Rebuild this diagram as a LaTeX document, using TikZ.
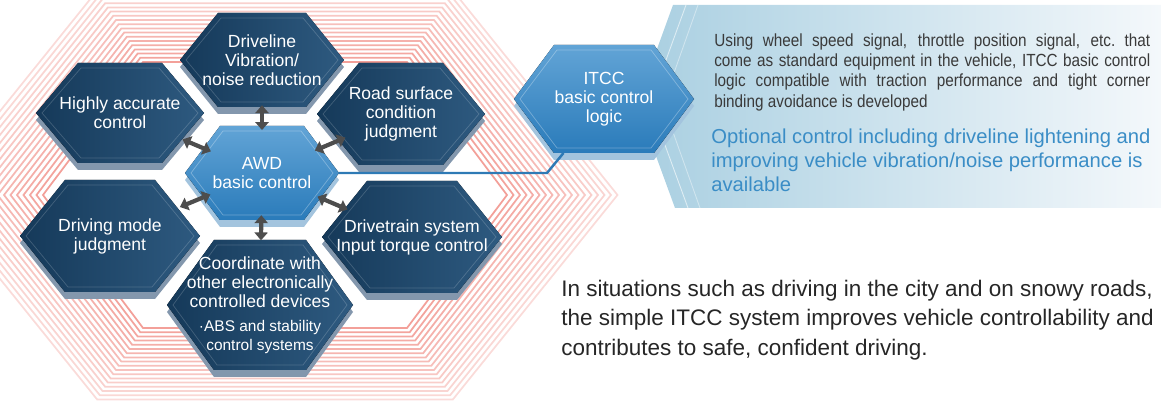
\documentclass[tikz,border=0pt]{standalone}
\usepackage{fontspec}
\setmainfont{Liberation Sans}
\newfontfamily\narrowfont[FakeStretch=0.87]{Liberation Sans}
\usetikzlibrary{arrows.meta, calc}

\definecolor{navyA}{HTML}{153959}
\definecolor{navyB}{HTML}{2E5A80}
\definecolor{navySlab}{HTML}{8397AD}
\definecolor{awdA}{HTML}{2A7BBA}
\definecolor{awdB}{HTML}{62A4D6}
\definecolor{awdSlab}{HTML}{A3C4DE}
\definecolor{arrowgray}{HTML}{4D4D4D}
\definecolor{ringpink}{HTML}{F29B94}
\definecolor{linkblue}{HTML}{2E7AB5}
\definecolor{optblue}{HTML}{3A8DC6}
\definecolor{bodygray}{HTML}{3A3A3A}
\definecolor{bodydark}{HTML}{262626}
\definecolor{panelL}{HTML}{A9CFE1}
\definecolor{panelM}{HTML}{CDE3ED}
\definecolor{panelR}{HTML}{F4F8FB}

\newcommand{\hexfont}{\fontsize{10}{10.8}\selectfont}
\newcommand{\smallhexfont}{\fontsize{8.8}{10.2}\selectfont}

% name, x, y, half width, half height, inset, kind, text
\newcommand{\hexcell}[8]{%
  \begin{scope}[shift={(#2,#3)}]
    \fill[#7 slab] (-#4,7) -- (-#4+#6,7-#5) -- (#4-#6,7-#5) -- (#4,7) -- (#4-#6,7+#5) -- (-#4+#6,7+#5) -- cycle;
    \fill[#7 face] (-#4,0) -- (-#4+#6,-#5) -- (#4-#6,-#5) -- (#4,0) -- (#4-#6,#5) -- (-#4+#6,#5) -- cycle;
    \draw[#7 rim] (-#4+6,0) -- (-#4+#6+3,5-#5) -- (#4-#6-3,5-#5) -- (#4-6,0) -- (#4-#6-3,#5-5) -- (-#4+#6+3,#5-5) -- cycle;
  \end{scope}
  \node[hex text, minimum width=#4*0.04cm, minimum height=#5*0.04cm] (#1) at (#2,#3) {#8};
}

\begin{document}
\begin{tikzpicture}[x=0.02cm, y=-0.02cm]
\tikzstyle{dark slab}=[fill=navySlab]
\tikzstyle{dark face}=[left color=navyA, right color=navyB]
\tikzstyle{dark rim}=[draw=white, draw opacity=0.18, line width=0.4pt]
\tikzstyle{light slab}=[fill=awdSlab]
\tikzstyle{light face}=[bottom color=awdA, top color=awdB]
\tikzstyle{light rim}=[draw=white, draw opacity=0.3, line width=0.4pt]
\tikzstyle{hex text}=[text=white, align=center, inner sep=0pt, outer sep=0pt, font=\hexfont]
\tikzstyle{biarrow}=[draw=arrowgray, line width=2.4pt, {Triangle[length=4.5pt,width=7.5pt]}-{Triangle[length=4.5pt,width=7.5pt]}]
\tikzstyle{link}=[draw=linkblue, line width=1.4pt]
\tikzstyle{ring}=[draw=ringpink, line width=1pt]

\useasboundingbox (0,0) rectangle (1161,405);

% background rings
\begin{scope}
\clip (0,0) rectangle (1161,405);
\foreach \k in {0,...,17}{
  \pgfmathsetmacro{\hw}{232+6.5*\k}
  \pgfmathsetmacro{\hh}{133+4.2*\k}
  \pgfmathsetmacro{\dd}{100+3.8*\k}
  \pgfmathsetmacro{\op}{0.95-0.035*\k}
  \draw[ring, draw opacity=\op] (275-\hw,195) -- (275-\hw+\dd,195-\hh) -- (275+\hw-\dd,195-\hh)
    -- (275+\hw,195) -- (275+\hw-\dd,195+\hh) -- (275-\hw+\dd,195+\hh) -- cycle;
}
\end{scope}

% info panel
\path[left color=panelL, middle color=panelM, right color=panelR] (673,5) -- (1161,5) -- (1161,208) -- (675,208) -- (637,104) -- cycle;
\draw[white, opacity=0.6, line width=0.5pt] (686,5) -- (650,104) -- (688,208);
\draw[white, opacity=0.4, line width=0.5pt] (698,5) -- (663,104) -- (700,208);

% hexagons
\hexcell{drive}{262}{60}{82}{47}{38}{dark}{Driveline\\Vibration/\\noise reduction}
\hexcell{accurate}{120}{113}{84}{50}{42}{dark}{Highly accurate\\control}
\hexcell{road}{401}{114}{84}{51}{42}{dark}{Road surface\\condition\\judgment}
\hexcell{mode}{110}{236}{90}{56}{45}{dark}{Driving mode\\judgment}
\hexcell{torque}{412}{237}{90}{56}{45}{dark}{Drivetrain system\\Input torque control}
\hexcell{coord}{260}{305}{93}{65}{47}{dark}{Coordinate with\\other electronically\\controlled devices\\[3pt]\smallhexfont ·ABS and stability\\\smallhexfont control systems}
\hexcell{awd}{262}{173}{77}{47}{35}{light}{AWD\\basic control}
\hexcell{itcc}{604}{99}{90}{54}{40}{light}{ITCC\\basic control\\logic}

% arrows
\draw[biarrow] ($(awd)!0.38!(drive)$) -- ($(awd)!0.60!(drive)$);
\draw[biarrow] ($(awd)!0.36!(accurate)$) -- ($(awd)!0.56!(accurate)$);
\draw[biarrow] ($(awd)!0.38!(road)$) -- ($(awd)!0.60!(road)$);
\draw[biarrow] ($(awd)!0.34!(mode)$) -- ($(awd)!0.54!(mode)$);
\draw[biarrow] ($(awd)!0.37!(torque)$) -- ($(awd)!0.57!(torque)$);
\draw[biarrow] ($(awd)!0.32!(coord)$) -- ($(awd)!0.51!(coord)$);

\coordinate (bend) at (547,173);
\draw[link] (awd.east) -- (bend) -- ($(itcc.south west)!0.55!(itcc.south)$);

% texts
\node[anchor=north west, inner sep=0pt, text=bodygray, font=\narrowfont\fontsize{10}{11.6}\selectfont, align=left] (spec) at (714,33)
  {\makebox[8.72cm][s]{Using wheel speed signal, throttle position signal, etc.\ that}\\
   \makebox[8.72cm][s]{come as standard equipment in the vehicle, ITCC basic control}\\
   \makebox[8.72cm][s]{logic compatible with traction performance and tight corner}\\
   binding avoidance is developed};
\node[anchor=north west, inner sep=0pt, text=optblue, font=\fontsize{11.5}{13.6}\selectfont, align=left] (option) at (711,129)
  {Optional control including driveline lightening and\\improving vehicle vibration/noise performance is\\available};
\node[anchor=north west, inner sep=0pt, text=bodydark, font=\fontsize{12.8}{16.7}\selectfont, align=left] (summary) at (561,280)
  {In situations such as driving in the city and on snowy roads,\\the simple ITCC system improves vehicle controllability and\\contributes to safe, confident driving.};
\end{tikzpicture}
\end{document}
